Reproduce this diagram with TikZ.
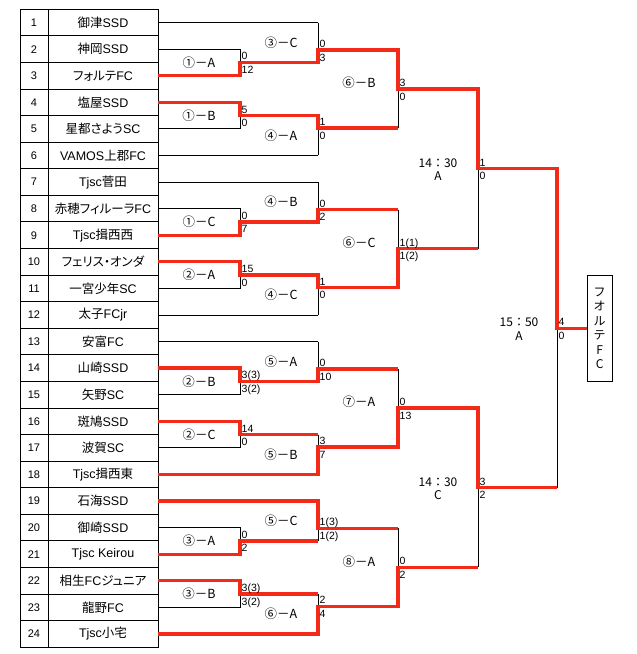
\documentclass[tikz,border=0pt]{standalone}
\usepackage{fontspec}
\setmainfont{Liberation Sans}
\newfontfamily\jp{Noto Sans CJK JP}[RawFeature=+palt]
\newfontfamily\jpm{Noto Sans CJK JP}
\definecolor{winred}{RGB}{244,42,24}
\tikzset{
  br/.style={line width=0.9pt},
  gridline/.style={line width=0.9pt},
  win/.style={line width=3.3pt, draw=winred, line join=miter},
  teamname/.style={inner sep=0pt, font=\fontsize{12.5}{13}\selectfont},
  teamno/.style={inner sep=0pt, font=\fontsize{11}{12}\selectfont},
  score/.style={inner sep=0pt, anchor=base west, font=\fontsize{10.5}{11}\selectfont},
  matchlbl/.style={inner sep=0pt, font=\jpm\fontsize{12.5}{13}\selectfont},
  timelbl/.style={inner sep=0pt, align=center, font=\jpm\fontsize{12}{13.5}\selectfont},
  champbox/.style={draw, line width=0.9pt, minimum width=24.5pt, minimum height=106.3pt,
    inner sep=0pt, anchor=west, align=center, font=\jpm\fontsize{12}{14.4}\selectfont},
}
\newcommand\scores[5]{%
  \node[score] (#1u) at (#2+1.5,#3-2.5) {#4};
  \node[score] (#1d) at (#2+1.5,#3+11) {#5};}
\begin{document}
\begin{tikzpicture}[x=1pt,y=-1pt]
\useasboundingbox (0,0) rectangle (637,654);
% coordinates
\foreach \i in {1,...,24} \coordinate (r\i) at (158,{9.3+(\i-0.5)*26.58});
\foreach \k in {0,...,24} \coordinate (b\k) at (0,{9.3+\k*26.58});
\coordinate (X1) at (240,0);
\coordinate (X2) at (318,0);
\coordinate (X3) at (398,0);
\coordinate (X4) at (478,0);
\coordinate (X5) at (557,0);
\coordinate (X6) at (587,0);
\coordinate (g1) at (318,50.04);
\coordinate (g2) at (318,128.04);
\coordinate (g3) at (318,209.52);
\coordinate (g4) at (318,287.52);
\coordinate (g5) at (318,369.0);
\coordinate (g6) at (318,447.0);
\coordinate (g7) at (318,528.48);
\coordinate (g8) at (318,606.48);
% table
\draw[gridline] (20,9.3) rectangle (158,647.22);
\draw[gridline] (48,9.3) -- (48,647.22);
\foreach \k in {1,...,23} \draw[gridline] (20,{9.3+\k*26.58}) -- (158,{9.3+\k*26.58});
\foreach \i in {1,...,24} \node[teamno] (n\i) at (34,{9.3+(\i-0.5)*26.58}) {\i};
\node[teamname] (t1) at (103,22.59) {{\jp 御津}SSD};
\node[teamname] (t2) at (103,49.17) {{\jp 神岡}SSD};
\node[teamname] (t3) at (103,75.75) {{\jp フォルテ}FC};
\node[teamname] (t4) at (103,102.33) {{\jp 塩屋}SSD};
\node[teamname] (t5) at (103,128.91) {{\jp 星都さよう}SC};
\node[teamname] (t6) at (103,155.49) {VAMOS{\jp 上郡}FC};
\node[teamname] (t7) at (103,182.07) {Tjsc{\jp 菅田}};
\node[teamname] (t8) at (103,208.65) {{\jp 赤穂フィルーラ}FC};
\node[teamname] (t9) at (103,235.23) {Tjsc{\jp 揖西西}};
\node[teamname] (t10) at (103,261.81) {{\jp フェリス・オンダ}};
\node[teamname] (t11) at (103,288.39) {{\jp 一宮少年}SC};
\node[teamname] (t12) at (103,314.97) {{\jp 太子}FCjr};
\node[teamname] (t13) at (103,341.55) {{\jp 安富}FC};
\node[teamname] (t14) at (103,368.13) {{\jp 山崎}SSD};
\node[teamname] (t15) at (103,394.71) {{\jp 矢野}SC};
\node[teamname] (t16) at (103,421.29) {{\jp 斑鳩}SSD};
\node[teamname] (t17) at (103,447.87) {{\jp 波賀}SC};
\node[teamname] (t18) at (103,474.45) {Tjsc{\jp 揖西東}};
\node[teamname] (t19) at (103,501.03) {{\jp 石海}SSD};
\node[teamname] (t20) at (103,527.61) {{\jp 御崎}SSD};
\node[teamname] (t21) at (103,554.19) {Tjsc Keirou};
\node[teamname] (t22) at (103,580.77) {{\jp 相生}FC{\jp ジュニア}};
\node[teamname] (t23) at (103,607.35) {{\jp 龍野}FC};
\node[teamname] (t24) at (103,633.93) {Tjsc{\jp 小宅}};
% black bracket lines
\foreach \i in {1,6,7,12,13,18,19,24} \draw[br] (r\i) -- (X2 |- r\i);
\foreach \a/\b in {2/3,4/5,8/9,10/11,14/15,16/17,20/21,22/23} {
  \draw[br] (r\a) -- (X1 |- r\a) -- (X1 |- r\b) -- (r\b);
  \draw[br] (X1 |- b\a) -- (X2 |- b\a);
}
\foreach \p/\q/\g in {r1/b2/g1, b4/r6/g2, r7/b8/g3, b10/r12/g4, r13/b14/g5, b16/r18/g6, r19/b20/g7, b22/r24/g8} {
  \draw[br] (X2 |- \p) -- (X2 |- \q);
  \draw[br] (\g) -- (X3 |- \g);
}
\foreach \p/\q/\o in {g1/g2/b3, g3/g4/b9, g5/g6/b15, g7/g8/b21} {
  \draw[br] (X3 |- \p) -- (X3 |- \q);
  \draw[br] (X3 |- \o) -- (X4 |- \o);
}
\foreach \p/\q/\o in {b3/b9/b6, b15/b21/b18} {
  \draw[br] (X4 |- \p) -- (X4 |- \q);
  \draw[br] (X4 |- \o) -- (X5 |- \o);
}
\draw[br] (X5 |- b6) -- (X5 |- b18);
\node[champbox] (champ) at (X6 |- b12) {フ\\オ\\ル\\テ\\F\\C};
\draw[br] (X5 |- b12) -- (champ.west);
% winner paths
\draw[win] (r3) -- (X1 |- r3) -- (X1 |- b2) -- (X2 |- b2) -- (g1) -- (X3 |- g1) -- (X3 |- b3) -- (X4 |- b3) -- (X4 |- b6) -- (X5 |- b6) -- (X5 |- b12) -- (champ.west);
\draw[win] (r4) -- (X1 |- r4) -- (X1 |- b4) -- (X2 |- b4) -- (g2) -- (X3 |- g2);
\draw[win] (r9) -- (X1 |- r9) -- (X1 |- b8) -- (X2 |- b8) -- (g3) -- (X3 |- g3);
\draw[win] (r10) -- (X1 |- r10) -- (X1 |- b10) -- (X2 |- b10) -- (g4) -- (X3 |- g4) -- (X3 |- b9) -- (X4 |- b9);
\draw[win] (r14) -- (X1 |- r14) -- (X1 |- b14) -- (X2 |- b14) -- (g5) -- (X3 |- g5);
\draw[win] (r16) -- (X1 |- r16) -- (X1 |- b16) -- (X2 |- b16);
\draw[win] (r18) -- (X2 |- r18) -- (g6) -- (X3 |- g6) -- (X3 |- b15) -- (X4 |- b15) -- (X4 |- b18) -- (X5 |- b18);
\draw[win] (r19) -- (X2 |- r19) -- (g7) -- (X3 |- g7);
\draw[win] (r21) -- (X1 |- r21) -- (X1 |- b20) -- (X2 |- b20);
\draw[win] (r22) -- (X1 |- r22) -- (X1 |- b22) -- (X2 |- b22);
\draw[win] (r24) -- (X2 |- r24) -- (g8) -- (X3 |- g8) -- (X3 |- b21) -- (X4 |- b21);
% scores round 1
\scores{a1}{240}{62.46}{0}{12}
\scores{a2}{240}{115.62}{5}{0}
\scores{a3}{240}{221.94}{0}{7}
\scores{a4}{240}{275.1}{15}{0}
\scores{a5}{240}{381.42}{3(3)}{3(2)}
\scores{a6}{240}{434.58}{14}{0}
\scores{a7}{240}{540.9}{0}{2}
\scores{a8}{240}{594.06}{3(3)}{3(2)}
% scores round 2
\scores{c1}{318}{50.04}{0}{3}
\scores{c2}{318}{128.04}{1}{0}
\scores{c3}{318}{209.52}{0}{2}
\scores{c4}{318}{287.52}{1}{0}
\scores{c5}{318}{369.0}{0}{10}
\scores{c6}{318}{447.0}{3}{7}
\scores{c7}{318}{528.48}{1(3)}{1(2)}
\scores{c8}{318}{606.48}{2}{4}
% scores round 3
\scores{e1}{398}{89.04}{3}{0}
\scores{e2}{398}{248.52}{1(1)}{1(2)}
\scores{e3}{398}{408.0}{0}{13}
\scores{e4}{398}{567.48}{0}{2}
% semis and final
\scores{h1}{478}{168.78}{1}{0}
\scores{h2}{478}{487.74}{3}{2}
\scores{k1}{557}{328.26}{4}{0}
% match labels
\node[matchlbl] (m1) at (199,62.46) {①－A};
\node[matchlbl] (m2) at (199,115.62) {①－B};
\node[matchlbl] (m3) at (199,221.94) {①－C};
\node[matchlbl] (m4) at (199,275.1) {②－A};
\node[matchlbl] (m5) at (199,381.42) {②－B};
\node[matchlbl] (m6) at (199,434.58) {②－C};
\node[matchlbl] (m7) at (199,540.9) {③－A};
\node[matchlbl] (m8) at (199,594.06) {③－B};
\node[matchlbl] (p1) at (281,42.5) {③－C};
\node[matchlbl] (p2) at (281,135.6) {④－A};
\node[matchlbl] (p3) at (281,202.0) {④－B};
\node[matchlbl] (p4) at (281,295.0) {④－C};
\node[matchlbl] (p5) at (281,361.5) {⑤－A};
\node[matchlbl] (p6) at (281,454.5) {⑤－B};
\node[matchlbl] (p7) at (281,521.0) {⑤－C};
\node[matchlbl] (p8) at (281,614.0) {⑥－A};
\node[matchlbl] (q1) at (359,83) {⑥－B};
\node[matchlbl] (q2) at (359,242.5) {⑥－C};
\node[matchlbl] (q3) at (359,402) {⑦－A};
\node[matchlbl] (q4) at (359,561.5) {⑧－A};
\node[timelbl] (w1) at (438,169.8) {14：30\\A};
\node[timelbl] (w2) at (438,488.5) {14：30\\C};
\node[timelbl] (w3) at (519,329.3) {15：50\\A};
\end{tikzpicture}
\end{document}
